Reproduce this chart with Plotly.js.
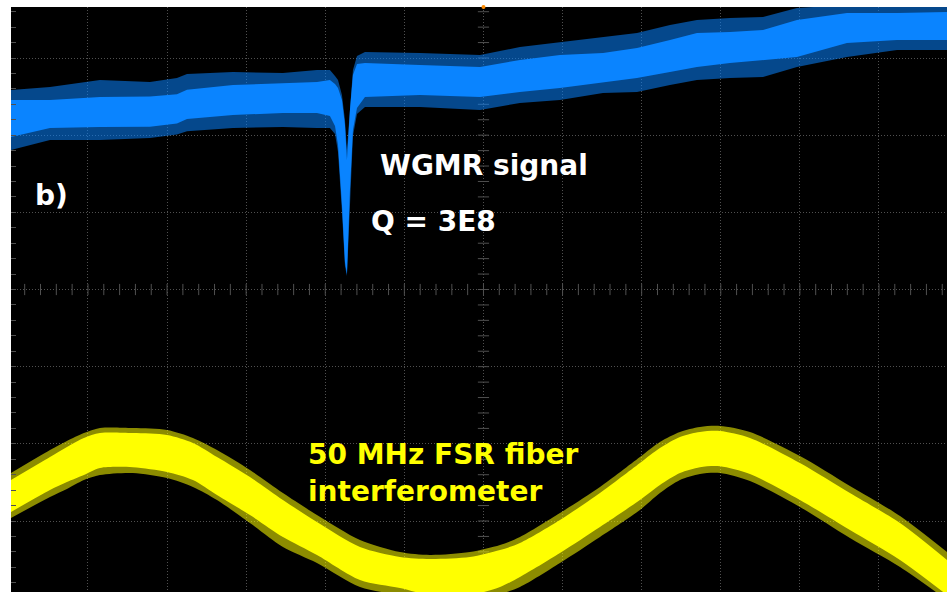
<!DOCTYPE html>
<html>
<head>
<meta charset="utf-8">
<script src="https://cdn.plot.ly/plotly-3.0.1.min.js"></script>
<style>html,body{margin:0;padding:0;background:#fff;}#chart{width:947px;height:592px;}</style>
</head>
<body>
<div id="chart"></div>
<script>
// Oscilloscope screen, units = graticule divisions (x: time div, y: vertical div)
const blueX = [-5.973,-5.480,-4.848,-4.216,-3.875,-3.748,-3.167,-2.535,-2.105,-1.941,-1.877,-1.839,-1.789,-1.751,-1.726,-1.688,-1.650,-1.599,-1.498,-0.803,-0.044,0.461,0.967,1.511,1.941,2.358,2.699,3.116,3.534,3.963,4.595,5.228,5.860];
const blueCoreTop = [2.456,2.456,2.494,2.500,2.530,2.590,2.650,2.676,2.689,2.715,2.663,2.611,2.456,2.132,1.678,2.326,2.780,2.922,2.935,2.909,2.883,2.974,3.039,3.065,3.129,3.234,3.324,3.337,3.363,3.492,3.583,3.583,3.596];
const blueCoreBot = [1.976,2.093,2.106,2.110,2.150,2.210,2.261,2.287,2.287,2.248,2.119,1.873,1.095,0.356,0.201,1.289,2.067,2.352,2.494,2.520,2.494,2.559,2.611,2.689,2.741,2.818,2.883,2.935,2.974,3.013,3.194,3.234,3.234];
const blueFuzzTop = [2.585,2.624,2.715,2.689,2.741,2.793,2.818,2.806,2.844,2.844,2.767,2.715,2.520,2.196,1.808,2.391,2.844,3.026,3.078,3.065,3.039,3.142,3.207,3.272,3.324,3.427,3.492,3.518,3.531,3.648,3.687,3.687,3.687];
const blueFuzzBot = [1.808,1.937,1.937,1.963,2.010,2.050,2.093,2.106,2.093,2.093,2.015,1.782,1.004,0.305,0.175,1.212,1.989,2.274,2.365,2.365,2.326,2.417,2.456,2.546,2.559,2.650,2.715,2.741,2.754,2.883,3.013,3.104,3.104];

const yellowX = [-5.973,-5.480,-5.266,-5.051,-4.848,-4.431,-4.001,-3.673,-3.369,-2.952,-2.535,-2.105,-1.561,-1.056,-0.676,-0.171,0.209,0.461,0.967,1.473,1.978,2.231,2.484,2.737,2.990,3.369,4.001,4.633,5.266,5.860];
const yellowCoreTop = [-2.469,-2.171,-2.041,-1.924,-1.860,-1.860,-1.886,-1.989,-2.171,-2.430,-2.728,-3.013,-3.337,-3.466,-3.492,-3.466,-3.376,-3.285,-2.987,-2.637,-2.248,-2.054,-1.911,-1.847,-1.834,-1.924,-2.248,-2.637,-3.026,-3.505];
const yellowCoreBot = [-2.883,-2.598,-2.495,-2.404,-2.313,-2.303,-2.365,-2.469,-2.663,-2.922,-3.207,-3.440,-3.764,-3.868,-3.959,-3.959,-3.855,-3.726,-3.415,-3.078,-2.728,-2.533,-2.378,-2.303,-2.290,-2.391,-2.728,-3.116,-3.505,-3.959];
const yellowFuzzTop = [-2.378,-2.080,-1.963,-1.860,-1.795,-1.795,-1.821,-1.924,-2.080,-2.339,-2.637,-2.922,-3.246,-3.402,-3.440,-3.402,-3.311,-3.207,-2.896,-2.559,-2.171,-1.976,-1.847,-1.782,-1.769,-1.847,-2.158,-2.546,-2.935,-3.402];
const yellowFuzzBot = [-2.961,-2.689,-2.585,-2.469,-2.404,-2.378,-2.443,-2.559,-2.728,-3.026,-3.337,-3.544,-3.855,-3.959,-4.024,-4.024,-3.946,-3.855,-3.544,-3.207,-2.857,-2.637,-2.469,-2.391,-2.378,-2.482,-2.818,-3.220,-3.596,-4.024];

const labels = {
  b: "b)",
  wgmr: "WGMR signal",
  q: "Q = 3E8",
  fsr1: "50 MHz FSR fiber",
  fsr2: "interferometer"
};

const X_RANGE = [-5.973, 5.860];
const Y_RANGE = [-3.920, 3.661];
const GRID = "#505050";
const BLUE = "#0a84ff";
const BLUE_FUZZ = "rgba(10,132,255,0.55)";
const YEL = "#ffff00";
const YEL_FUZZ = "rgba(255,255,0,0.55)";

function band(x, top, bot, color, shape) {
  return [
    {x: x, y: top, type: "scatter", mode: "lines", line: {width: 0, color: color, shape: shape, smoothing: 0.8}, hoverinfo: "skip", showlegend: false},
    {x: x, y: bot, type: "scatter", mode: "lines", line: {width: 0, color: color, shape: shape, smoothing: 0.8}, fill: "tonexty", fillcolor: color, hoverinfo: "skip", showlegend: false}
  ];
}

// graticule tick marks on centre cross
const hx = [], hy = [], vx = [], vy = [];
for (let i = -30; i <= 30; i++) { hx.push(i * 0.2); hy.push(0); }
for (let i = -20; i <= 19; i++) { vx.push(0); vy.push(i * 0.2); }

const traces = [
  {x: hx, y: hy, type: "scatter", mode: "markers", marker: {symbol: "line-ns-open", size: 8, color: GRID, line: {width: 1, color: GRID}}, hoverinfo: "skip", showlegend: false},
  {x: vx, y: vy, type: "scatter", mode: "markers", marker: {symbol: "line-ew-open", size: 8, color: GRID, line: {width: 1, color: GRID}}, hoverinfo: "skip", showlegend: false},
  ...band(blueX, blueFuzzTop, blueFuzzBot, BLUE_FUZZ, "linear"),
  ...band(blueX, blueCoreTop, blueCoreBot, BLUE, "linear"),
  ...band(yellowX, yellowFuzzTop, yellowFuzzBot, YEL_FUZZ, "spline"),
  ...band(yellowX, yellowCoreTop, yellowCoreBot, YEL, "spline"),
  {x: [0], y: [Y_RANGE[1]], type: "scatter", mode: "markers", cliponaxis: false, marker: {symbol: "circle", size: 4, color: "#ff8c00"}, hoverinfo: "skip", showlegend: false}
];

const txtFont = (c) => ({family: "DejaVu Sans", size: 28, color: c, weight: "bold"});
const annotations = [
  {text: labels.b, x: -5.70, y: 1.212, xref: "x", yref: "y", xanchor: "left", yanchor: "middle", showarrow: false, font: txtFont("#ffffff")},
  {text: labels.wgmr, x: -1.335, y: 1.613, xref: "x", yref: "y", xanchor: "left", yanchor: "middle", showarrow: false, font: txtFont("#ffffff")},
  {text: labels.q, x: -1.45, y: 0.875, xref: "x", yref: "y", xanchor: "left", yanchor: "middle", showarrow: false, font: txtFont("#ffffff")},
  {text: labels.fsr1, x: -2.245, y: -2.132, xref: "x", yref: "y", xanchor: "left", yanchor: "middle", showarrow: false, font: txtFont(YEL)},
  {text: labels.fsr2, x: -2.245, y: -2.624, xref: "x", yref: "y", xanchor: "left", yanchor: "middle", showarrow: false, font: txtFont(YEL)}
];

const layout = {
  width: 947, height: 592,
  margin: {l: 11, r: 0, t: 7, b: 0, pad: 0},
  paper_bgcolor: "#ffffff",
  plot_bgcolor: "#000000",
  showlegend: false,
  xaxis: {range: X_RANGE, showgrid: true, dtick: 1, tick0: 0, gridcolor: GRID, griddash: "1px,2px", gridwidth: 1,
          zeroline: false, showline: false, showticklabels: false, ticks: "", fixedrange: true},
  yaxis: {range: Y_RANGE, showgrid: true, dtick: 1, tick0: 0, gridcolor: GRID, griddash: "1px,2px", gridwidth: 1,
          zeroline: false, showline: false, showticklabels: false, ticks: "inside", ticklen: 5, tickcolor: GRID, tickwidth: 1,
          minor: {dtick: 0.2, tick0: 0, ticks: "inside", ticklen: 5, tickcolor: GRID, tickwidth: 1, showgrid: false},
          fixedrange: true},
  annotations: annotations
};

Plotly.newPlot("chart", traces, layout, {displayModeBar: false, staticPlot: true});
</script>
</body>
</html>
